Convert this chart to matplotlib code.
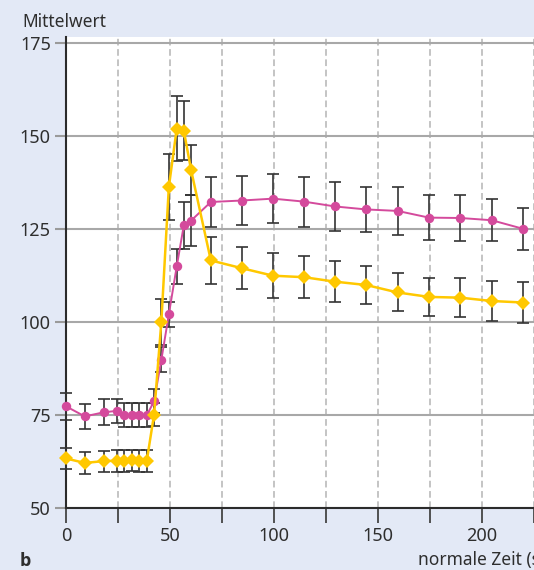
import matplotlib
matplotlib.use("Agg")
import matplotlib.pyplot as plt

# ---- data ----
zeit = [0, 9, 18, 24.5, 28, 31.8, 35.2, 38.8, 42.3, 45.8, 49.4, 53.2, 56.6, 60.1,
        69.6, 84.6, 99.5, 114.4, 129.3, 144.3, 159.4, 174.5, 189.6, 204.7, 219.7]

pink_mean = [77.3, 74.6, 75.7, 76.1, 74.9, 74.9, 74.9, 74.9, 78.7, 89.8, 102.0, 114.9, 125.9, 127.2,
             132.2, 132.6, 133.1, 132.3, 131.0, 130.2, 129.8, 128.0, 127.9, 127.3, 125.0]
pink_err = [3.6, 3.4, 3.5, 3.3, 3.2, 3.2, 3.2, 3.2, 3.3, 3.4, 3.4, 4.6, 6.3, 6.9,
            6.7, 6.5, 6.5, 6.7, 6.6, 6.1, 6.4, 6.1, 6.1, 5.7, 5.7]

gelb_mean = [63.3, 62.1, 62.6, 62.7, 62.7, 62.8, 62.7, 62.7, 75.1, 100.0, 136.2, 151.9, 151.4, 140.8,
             116.5, 114.4, 112.4, 112.0, 110.8, 109.9, 107.9, 106.7, 106.5, 105.6, 105.2]
gelb_err = [2.9, 2.9, 2.8, 2.9, 2.9, 2.9, 2.9, 2.9, 3.0, 6.1, 8.9, 8.7, 7.9, 6.7,
            6.3, 5.6, 6.0, 5.6, 5.5, 5.1, 5.1, 5.0, 5.2, 5.3, 5.4]

x_ticks = [0, 25, 50, 75, 100, 125, 150, 175, 200, 225]
x_ticklabels = ["0", "", "50", "", "100", "", "150", "", "200", ""]
y_ticks = [50, 75, 100, 125, 150, 175]
y_label = "Mittelwert"
x_label = "normale Zeit (s)"
panel = "b"

# ---- styling ----
plt.rcParams['font.family'] = ['Noto Sans', 'DejaVu Sans']
plt.rcParams['lines.scale_dashes'] = False
BG = "#e3e9f6"
PINK = "#d44a9c"
GELB = "#ffc800"
TXT = "#2e2e2e"

W, H = 534, 570
fig = plt.figure(figsize=(W / 100, H / 100), dpi=100, facecolor=BG)
ax = fig.add_axes([66.1 / W, (H - 508) / H, (W - 66.1) / W, (508 - 36.7) / H])
ax.set_facecolor("white")

ax.set_xlim(0, 221.1)
ax.set_ylim(50, 176.6)

ax.set_xticks(x_ticks)
ax.set_xticklabels(x_ticklabels)
ax.set_yticks(y_ticks)

ax.xaxis.grid(True, color="#b4b4b4", lw=1.1, linestyle=(0, (4.8, 2.6)), zorder=0)
ax.yaxis.grid(True, color="#a8a8a8", lw=1.5, linestyle="-", zorder=0)
ax.set_axisbelow(True)

for s in ["top", "right"]:
    ax.spines[s].set_visible(False)
for s in ["left", "bottom"]:
    ax.spines[s].set_color("#2b2b2b")
    ax.spines[s].set_linewidth(1.5)
    ax.spines[s].set_zorder(2)

ax.tick_params(axis="x", direction="out", length=10.5, width=1.3, color="#444444",
               labelsize=13, labelcolor=TXT, pad=3.5)
ax.tick_params(axis="y", direction="out", length=8, width=1.5, color="#9a9a9a",
               labelsize=13, labelcolor=TXT, pad=3)

# error bars
ax.errorbar(zeit, pink_mean, yerr=pink_err, fmt="none", ecolor="#333333",
            elinewidth=1.2, capsize=4, capthick=1.2, zorder=3, clip_on=False)
ax.errorbar(zeit, gelb_mean, yerr=gelb_err, fmt="none", ecolor="#333333",
            elinewidth=1.2, capsize=4, capthick=1.2, zorder=3, clip_on=False)

# lines + markers
ax.plot(zeit, pink_mean, color=PINK, lw=1.4, marker="o", markersize=6.8,
        markeredgewidth=0, zorder=4, clip_on=False)
ax.plot(zeit, gelb_mean, color=GELB, lw=1.8, marker="D", markersize=7.0,
        markeredgewidth=0, zorder=5, clip_on=False)

# texts
fig.text(22 / W, 1 - 27 / H, y_label, fontsize=12.5, color=TXT, ha="left", va="baseline")
fig.text(418 / W, 1 - 564.5 / H, x_label, fontsize=12.5, color=TXT, ha="left", va="baseline")
fig.text(20 / W, 1 - 566.5 / H, panel, fontsize=13, fontweight="bold", color=TXT,
         family=["Open Sans", "DejaVu Sans"], ha="left", va="baseline")

fig.savefig("out.png", dpi=100, facecolor=BG)
